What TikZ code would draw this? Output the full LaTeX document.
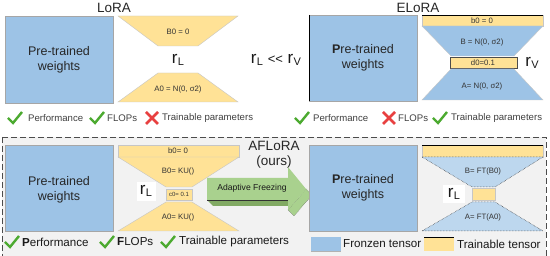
\documentclass[tikz,border=0pt]{standalone}
\usepackage{fontspec}
\setmainfont{Liberation Sans}
\usetikzlibrary{positioning}
\definecolor{frozcol}{RGB}{157,195,230}
\definecolor{frozlight}{RGB}{189,215,238}
\definecolor{traincol}{RGB}{255,226,150}
\definecolor{arrcol}{RGB}{169,209,142}
\definecolor{arrdark}{RGB}{130,170,100}
\definecolor{okcol}{RGB}{76,170,48}
\definecolor{nocol}{RGB}{232,64,64}
\definecolor{panelcol}{RGB}{242,242,242}
\tikzset{
  % pre-trained weight block
  wbox/.style={draw=gray!70, fill=frozcol, line width=0.6pt},
  % trainable tensor piece
  ttens/.style={draw=gray!45, fill=traincol, line width=0.4pt},
  % frozen tensor piece (ELoRA)
  ftens/.style={draw=gray!45, fill=frozcol, line width=0.4pt},
  % frozen tensor piece after freezing
  fltens/.style={draw=black!80, densely dotted, fill=frozlight, line width=0.5pt},
  % texts
  wtext/.style={font=\fontsize{12.5}{15}\selectfont, align=center, text=black!85},
  titletext/.style={font=\fontsize{13.5}{14}\selectfont, text=black!85},
  tlabel/.style={font=\fontsize{7.8}{8}\selectfont, text=black!80, inner sep=0pt},
  ranktext/.style={font=\fontsize{17}{17}\selectfont, text=black!90, inner sep=1pt},
  propsmall/.style={font=\fontsize{9.6}{10}\selectfont, text=black!75, anchor=west, inner sep=0pt},
  propbig/.style={font=\fontsize{11.6}{12}\selectfont, text=black!90, anchor=west, inner sep=0pt},
  % check and cross icons
  okmark/.pic={\draw[okcol, line width=2.4pt] (-7,0) -- (-2,5) -- (7,-6);},
  nomark/.pic={\draw[nocol, line width=2.8pt] (-6,-6) -- (6,6) (-6,6) -- (6,-6);},
}
\newcommand{\rsub}[1]{r\kern0.3pt\raisebox{-0.3ex}{\fontsize{11}{11}\selectfont #1}}

\begin{document}
\begin{tikzpicture}[x=1pt, y=-1pt]
  \useasboundingbox (0,0) rectangle (550,256);
  \fill[white] (0,0) rectangle (550,256);

  % ---- LoRA ----
  \node[titletext] (lora) at (114,8) {LoRA};
  \draw[wbox] (5,16) rectangle (113,103);
  \node[wtext] (wlora) at (59,60) {Pre-trained\\weights};
  \draw[ttens] (118,16) -- (238,16) -- (198,46) -- (158,46) -- cycle;
  \draw[ttens] (158,73) -- (198,73) -- (238,102) -- (118,102) -- cycle;
  \node[tlabel] (bl) at (178,32) {B0 = 0};
  \node[tlabel] (al) at (178,89) {A0 = N(0, σ2)};
  \node[ranktext] (rl) at (178,60) {\rsub{L}};
  \pic at (15,118) {okmark};
  \node[propsmall] (pl1) at (28,118) {Performance};
  \pic at (97,118) {okmark};
  \node[propsmall] (pl2) at (107,118) {FLOPs};
  \pic at (152,118) {nomark};
  \node[propsmall] (pl3) at (162,118) {Trainable parameters};

  \node[ranktext] (cmp) at (276,60) {\rsub{L} {\fontsize{13}{13}\selectfont <{}<} \rsub{V}};

  % ---- ELoRA ----
  \node[titletext] (elora) at (418,8) {ELoRA};
  \draw[wbox] (309,15) rectangle (417,101);
  \draw[black, line width=0.8pt] (309,15) -- (309,101);
  \node[wtext] (welora) at (363,58) {\textbf{P}re-trained\\weights};
  \draw[ttens] (422,15) rectangle (543,26);
  \draw[black, line width=0.8pt] (422,15) -- (543,15);
  \draw[ftens] (422,26) -- (543,26) -- (514,56) -- (451,56) -- cycle;
  \draw[ttens, draw=black!70] (450,57) rectangle (517,68);
  \draw[ftens] (451,69) -- (514,69) -- (543,100) -- (422,100) -- cycle;
  \node[tlabel] (be) at (482,20.5) {b0 = 0};
  \node[tlabel] (bbe) at (482,42) {B = N(0, σ2)};
  \node[tlabel] (de) at (483,62.5) {d0=0.1};
  \node[tlabel] (ae) at (482,86) {A= N(0, σ2)};
  \node[ranktext] (rv) at (532,63) {\rsub{V}};
  \pic at (302,118) {okmark};
  \node[propsmall] (pe1) at (313,118) {Performance};
  \pic at (389,118) {nomark};
  \node[propsmall] (pe2) at (398,118) {FLOPs};
  \pic at (440,118) {okmark};
  \node[propsmall] (pe3) at (451,118) {Trainable parameters};

  % ---- AFLoRA panel ----
  \draw[fill=panelcol, draw=black!70, line width=0.8pt, dash pattern=on 6pt off 3pt]
    (2,137) rectangle (546,262);
  \node[titletext] (aflora) at (274,146) {AFLoRA};
  \node[titletext] (ours) at (274,162) {(ours)};

  % left: before freezing
  \draw[wbox] (5,145) rectangle (113,231);
  \node[wtext] (wafl) at (59,190) {Pre-trained\\weights};
  \draw[ttens] (118,145) rectangle (239,157);
  \draw[ttens] (118,157) -- (239,157) -- (192,187) -- (166,187) -- cycle;
  \draw[ttens] (166,189) rectangle (192,200);
  \draw[ttens] (166,202) -- (192,202) -- (239,231) -- (118,231) -- cycle;
  \node[tlabel] (ba) at (178,151) {b0= 0};
  \node[tlabel] (bba) at (178,171) {B0= KU()};
  \node[tlabel, font=\fontsize{6}{6}\selectfont] (ca) at (179,194.5) {c0= 0.1};
  \node[tlabel] (aa) at (178,217) {A0= KU()};
  \fill[white] (137,182) rectangle (156,201);
  \node[ranktext] (rla) at (146,191) {\rsub{L}};

  % adaptive freezing arrow
  \fill[arrdark] (207,200) -- (288,200) -- (294,206) -- (213,206) -- cycle;
  \draw[black!70, densely dotted, fill=arrcol] (306,189) -- (312,195) -- (294,216) -- (288,210) -- cycle;
  \fill[arrcol] (207,178) -- (288,178) -- (288,167) -- (306,189) -- (288,210) -- (288,200) -- (207,200) -- cycle;
  \draw[black!80, line width=0.6pt] (207,200) -- (288,200);
  \node[font=\fontsize{8.6}{9}\selectfont, text=black!90] (freeze) at (252,188) {Adaptive Freezing};

  % right: after freezing
  \draw[wbox] (309,145) rectangle (417,231);
  \node[wtext] (wafr) at (363,188) {\textbf{P}re-trained\\weights};
  \draw[ttens] (422,145) rectangle (543,157);
  \draw[black, line width=0.8pt] (422,145) -- (543,145);
  \draw[fltens] (422,157) -- (543,157) -- (495,187) -- (472,187) -- cycle;
  \draw[ttens] (472,188) rectangle (495,200);
  \draw[fltens] (472,202) -- (495,202) -- (543,231) -- (422,231) -- cycle;
  \node[tlabel] (bf) at (483,171) {B= FT(B0)};
  \node[tlabel] (af) at (483,217) {A= FT(A0)};
  \fill[white] (443,185) rectangle (465,203);
  \node[ranktext] (rlf) at (454,194) {\rsub{L}};

  % properties
  \pic at (12,242) {okmark};
  \node[propbig] (pa1) at (22,242) {\textbf{P}erformance};
  \pic at (107,242) {okmark};
  \node[propbig] (pa2) at (117,242) {\textbf{F}LOPs};
  \pic at (168,242) {okmark};
  \node[propbig] (pa3) at (179,242) {Trainable parameters};

  % legend
  \fill[frozcol] (311,237) rectangle (341,251);
  \draw[gray!60] (311,251) -- (341,251);
  \node[propbig] (lgf) at (343,244) {Fronzen tensor};
  \fill[traincol] (424,237) rectangle (454,251);
  \draw[black, line width=0.8pt] (424,237) -- (454,237);
  \node[propbig] (lgt) at (457,244) {Trainable tensor};
\end{tikzpicture}
\end{document}
